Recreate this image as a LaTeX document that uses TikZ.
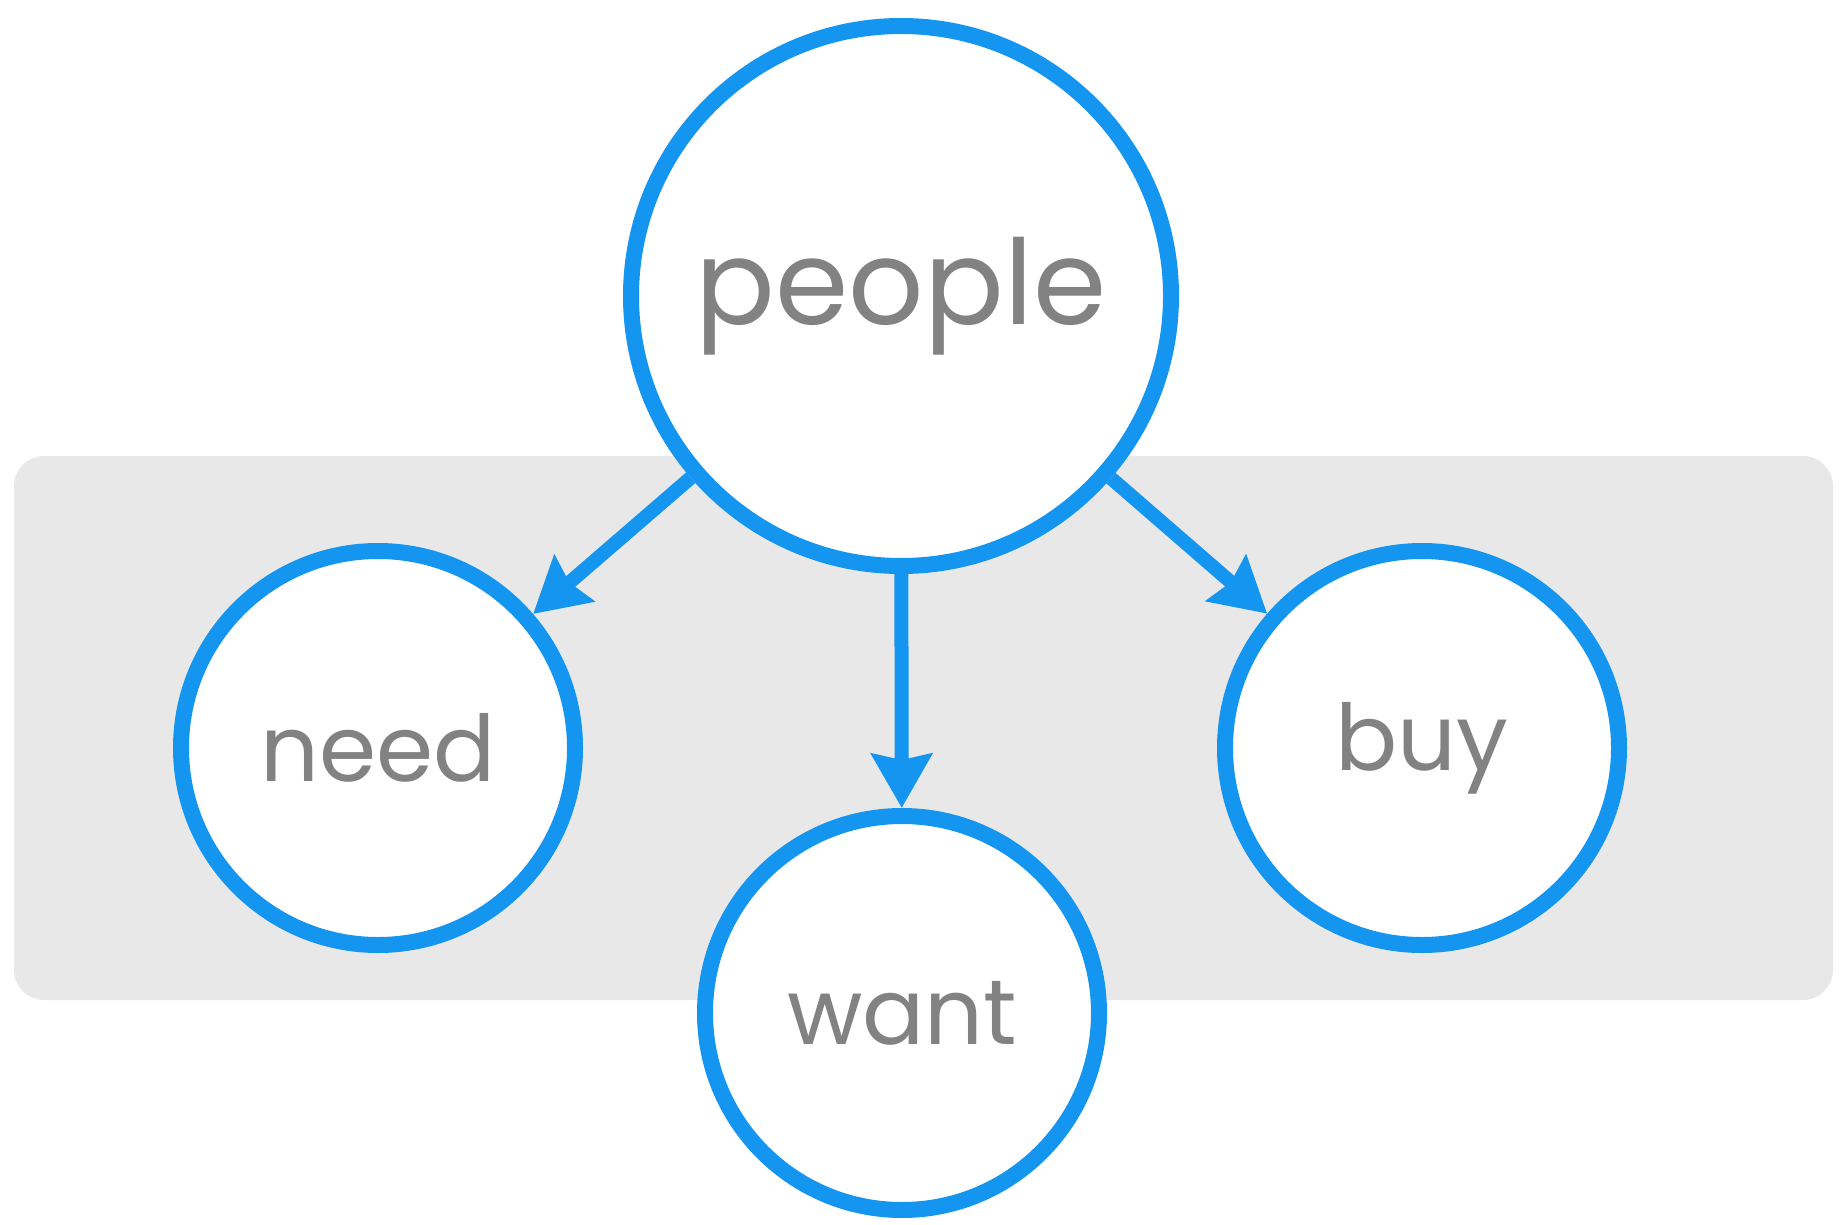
\documentclass[tikz,border=0pt]{standalone}
\usepackage{fontspec}
\setmainfont{Poppins}
\usetikzlibrary{arrows.meta}
\definecolor{cblue}{RGB}{20,150,240}
\definecolor{cgray}{RGB}{232,232,232}
\definecolor{ctext}{RGB}{130,130,130}
\tikzset{
  bubble/.style={circle, draw=cblue, line width=16pt, fill=white, text=ctext, inner sep=0pt},
  bigbubble/.style={bubble, minimum size=540pt, font=\fontsize{118}{118}\selectfont},
  smallbubble/.style={bubble, minimum size=394pt, font=\fontsize{92}{92}\selectfont},
  link/.style={draw=cblue, line width=14pt, -{Stealth[length=54pt, width=60pt, inset=6pt]}}
}
\begin{document}
\begin{tikzpicture}[x=1pt, y=-1pt]
\useasboundingbox (0,0) rectangle (1839,1225);
\fill[white] (0,0) rectangle (1839,1225);
\fill[cgray, rounded corners=30pt] (14,456) rectangle (1833,1000);
\node[bigbubble] (people) at (901,296) {people};
\node[smallbubble] (need) at (378,748) {need};
\node[smallbubble] (want) at (902,1013) {want};
\node[smallbubble] (buy) at (1422,748) {buy};
\draw[link] (people) -- (need);
\draw[link] (people) -- (want);
\draw[link] (people) -- (buy);
\end{tikzpicture}
\end{document}
